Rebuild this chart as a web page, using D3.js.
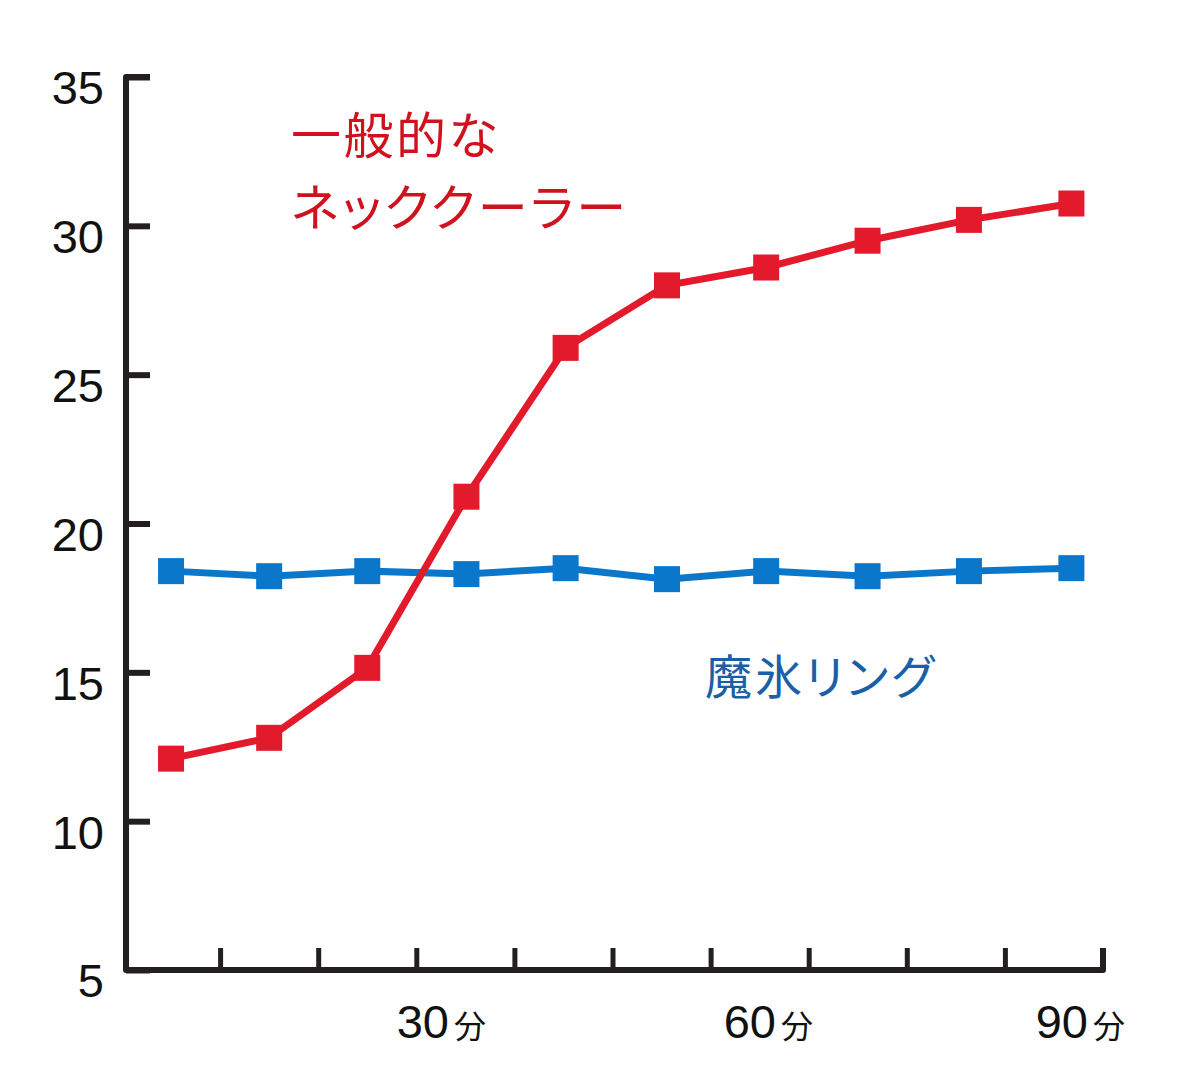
<!DOCTYPE html>
<html>
<head>
<meta charset="utf-8">
<script src="https://cdn.jsdelivr.net/npm/d3@7"></script>
<style>
  body { margin: 0; background: #fff; }
  svg { display: block; }
  .tick text { font-family: "Liberation Sans", Arial, sans-serif; }
  .note { font-family: "Noto Sans CJK JP", sans-serif; font-feature-settings: "palt"; }
</style>
</head>
<body>
<script>
var width = 1200,
    height = 1080;

// data
var minutes = [4.5, 13.5, 22.5, 31.6, 40.7, 50, 59.1, 68.4, 77.7, 87.1];
var neckCooler = [12.1, 12.8, 15.15, 20.9, 25.9, 28.0, 28.6, 29.5, 30.2, 30.75];
var iceRing = [18.4, 18.23, 18.4, 18.3, 18.5, 18.13, 18.4, 18.23, 18.4, 18.5];
var yTicks = [5, 10, 15, 20, 25, 30, 35];
var xTicks = [9, 18, 27, 36, 45, 54, 63, 72, 81, 90];
var xLabels = [30, 60, 90];

var red = "#e21a2c",
    blue = "#0b77cb",
    ink = "#231f20";

var x = d3.scaleLinear().domain([0, 90]).range([122, 1103]);
var y = d3.scaleLinear().domain([5, 35]).range([970, 77]);

var svg = d3.select("body").append("svg")
    .attr("width", width)
    .attr("height", height);

// y axis (ticks point inward)
var yAxis = svg.append("g")
    .attr("transform", "translate(" + (x(0) + 4) + ",0)")
    .call(d3.axisLeft(y).tickValues(yTicks).tickSize(-24).tickPadding(22));
yAxis.select(".domain").remove();
yAxis.selectAll(".tick line").attr("stroke", ink).attr("stroke-width", 6);
yAxis.selectAll(".tick text")
    .attr("font-size", 47)
    .attr("fill", "#111")
    .attr("dy", "0.68em")
    .attr("y", -5);

// x axis
var xAxis = svg.append("g")
    .attr("transform", "translate(0," + y(5) + ")")
    .call(d3.axisBottom(x).tickValues(xTicks).tickSize(-22).tickFormat(""));
xAxis.select(".domain").remove();
xAxis.selectAll(".tick line").attr("stroke", ink).attr("stroke-width", 5);

// axis frame
svg.append("path")
    .attr("d", "M" + (x(0) + 28) + "," + y(35) +
               "H" + (x(0) + 4) +
               "V" + y(5) +
               "H" + x(90) +
               "V" + (y(5) - 22))
    .attr("fill", "none")
    .attr("stroke", ink)
    .attr("stroke-width", 6)
    .attr("stroke-linejoin", "round");

// x labels
var lab = svg.append("g").selectAll("text")
    .data(xLabels)
    .enter().append("text")
    .attr("x", function(d) { return Math.min(x(d) + 37, 1125); })
    .attr("y", 1038)
    .attr("text-anchor", "end")
    .attr("fill", "#111");
lab.append("tspan")
    .attr("font-family", "Liberation Sans, Arial, sans-serif")
    .attr("font-size", 47)
    .text(function(d) { return d; });
lab.append("tspan")
    .attr("dx", 5)
    .attr("font-family", "Noto Sans CJK JP, sans-serif")
    .attr("font-size", 32)
    .text("分");

// series
var series = [
  { values: iceRing, color: blue },
  { values: neckCooler, color: red }
];
var line = d3.line()
    .x(function(d, i) { return x(minutes[i]); })
    .y(function(d) { return y(d); });

series.forEach(function(s) {
  svg.append("path")
      .datum(s.values)
      .attr("d", line)
      .attr("fill", "none")
      .attr("stroke", s.color)
      .attr("stroke-width", 7);
  svg.append("g").selectAll("rect")
      .data(s.values)
      .enter().append("rect")
      .attr("x", function(d, i) { return x(minutes[i]) - 13; })
      .attr("y", function(d) { return y(d) - 13; })
      .attr("width", 26)
      .attr("height", 26)
      .attr("fill", s.color);
});

// labels
svg.append("text")
    .attr("class", "note")
    .attr("x", 291).attr("y", 154)
    .attr("font-size", 50)
    .attr("letter-spacing", 2.5)
    .attr("fill", "#d0121e")
    .text("一般的な");
svg.append("text")
    .attr("class", "note")
    .attr("x", 291).attr("y", 226)
    .attr("font-size", 50)
    .attr("letter-spacing", 3)
    .attr("fill", "#d0121e")
    .text("ネッククーラー");
svg.append("text")
    .attr("class", "note")
    .attr("x", 705).attr("y", 694)
    .attr("font-size", 47)
    .attr("letter-spacing", 3)
    .attr("fill", "#1b5fa6")
    .text("魔氷リング");
</script>
</body>
</html>
